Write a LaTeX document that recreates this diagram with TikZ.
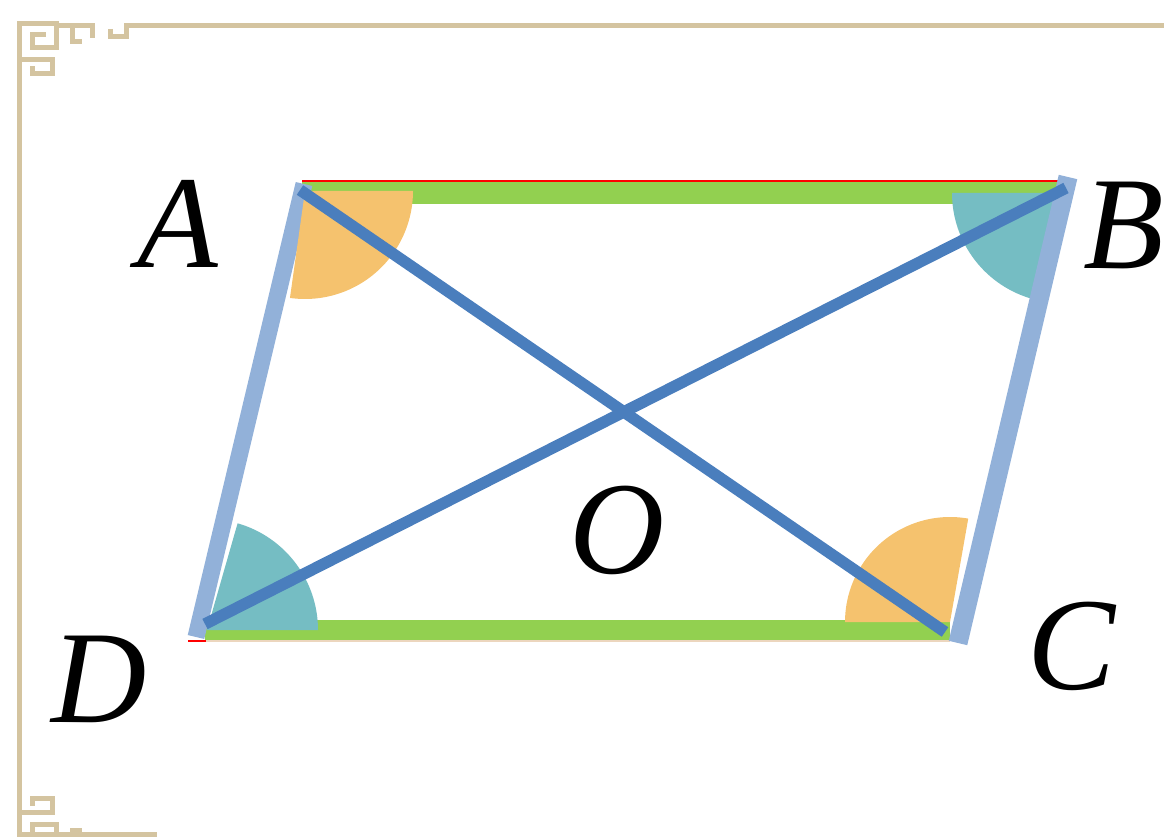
\documentclass[tikz,border=0pt]{standalone}
\usepackage{fontspec}
\setmainfont{Liberation Serif}
\usetikzlibrary{calc}

\definecolor{frame}{RGB}{212,196,160}
\definecolor{sidegreen}{RGB}{146,208,80}
\definecolor{sideblue}{RGB}{146,177,217}
\definecolor{diagblue}{RGB}{74,126,189}
\definecolor{angorange}{RGB}{245,194,110}
\definecolor{angteal}{RGB}{117,189,195}
\definecolor{edgetan}{RGB}{236,214,190}

\begin{document}
\begin{tikzpicture}[
    x=1pt, y=1pt,
    % frame ornament
    fret/.style={draw=frame, line width=5pt, line cap=butt, line join=miter},
    % vertex and centre labels
    lbl/.style={font=\fontsize{132}{132}\selectfont\itshape, inner sep=0pt},
    % the two parallel (green) sides
    pside/.style={fill=sidegreen},
    % the two slanted (blue) sides
    sside/.style={draw=sideblue, line width=18pt},
    % diagonals
    diag/.style={draw=diagblue, line width=11.5pt},
    % angle sectors
    angO/.style={fill=angorange},
    angT/.style={fill=angteal},
]

\clip (0,0) rectangle (1164,-837);

% ============================================================
% FRAME
% ============================================================
\foreach \ys/\yo in {1/-2, -1/-870}{
  \begin{scope}[yshift=\yo pt, yscale=\ys]
    \draw[fret] (19,-48) -- (19,-22) -- (56,-22) -- (56,-46) -- (32,-46) -- (32,-33) -- (46,-33);
    \draw[fret] (56,-24) -- (92,-24) -- (92,-36);
    \draw[fret] (72,-24) -- (72,-40) -- (82,-40);
    \draw[fret] (110,-27) -- (110,-35) -- (126,-35) -- (126,-24) -- (135,-24);
    \draw[fret] (19,-58) -- (52,-58) -- (52,-72) -- (32,-72) -- (32,-64);
  \end{scope}
}
\coordinate (f-tl) at (19,-50);
\coordinate (f-bl) at (19,-822);
\coordinate (f-t1) at (135,-26);
\coordinate (f-t2) at (1164,-26);
\coordinate (f-b1) at (19,-834);
\coordinate (f-b2) at (157,-834);
\draw[fret] (f-tl) -- (f-bl);
\draw[fret] (f-t1) -- (f-t2);
\draw[fret] (f-b1) -- (f-b2);

% ============================================================
% PARALLELOGRAM ABCD
% ============================================================
\coordinate (A) at (304,-184);
\coordinate (B) at (1068,-177);
\coordinate (C) at (958,-643);
\coordinate (D) at (196,-637);

% thin edges under the green sides
\coordinate (rA) at (302,-181);
\coordinate (rB) at (1058,-181);
\coordinate (rD) at (188,-641);
\coordinate (rD2) at (206,-641);
\coordinate (rC) at (950,-641);
\draw[red, line width=2pt] (rA) -- (rB);
\draw[edgetan, line width=2pt] (rD2) -- (rC);
\draw[red, line width=2pt] (rD) -- (rD2);

% green sides AB and DC
\fill[pside] (302,-182) rectangle (1058,-204);
\fill[pside] (205,-620) rectangle (950,-640);

% slanted side AD
\draw[sside, line width=17pt] (A) -- (D);

% angle sectors
\coordinate (sA) at (305,-191);
\coordinate (sB) at (1062,-193);
\coordinate (sC) at (950,-622);
\coordinate (sD) at (207,-630);
\fill[angO] (sA) -- ++(-98:108) arc[start angle=-98, end angle=0, radius=108] -- cycle;
\fill[angT] (sB) -- ++(180:110) arc[start angle=180, end angle=255, radius=110] -- cycle;
\fill[angO] (sC) -- ++(80:105) arc[start angle=80, end angle=180, radius=105] -- cycle;
\fill[angT] (sD) -- ++(0:111) arc[start angle=0, end angle=74, radius=111] -- cycle;

% slanted side BC
\draw[sside, line width=19pt] (B) -- (C);

% diagonals AC and BD
\coordinate (dA) at (300,-190);
\coordinate (dC) at (945,-632);
\coordinate (dB) at (1066,-188);
\coordinate (dD) at (205,-624);
\draw[diag] (dA) -- (dC);
\draw[diag] (dB) -- (dD);

% ============================================================
% LABELS
% ============================================================
\node[lbl] (lA) at (178,-224) {A};
\node[lbl] (lB) at (1124,-225) {B};
\node[lbl] (lC) at (1072,-646) {C};
\node[lbl] (lD) at (99,-679) {D};
\node[lbl] (lO) at (617,-530) {O};

\end{tikzpicture}
\end{document}
